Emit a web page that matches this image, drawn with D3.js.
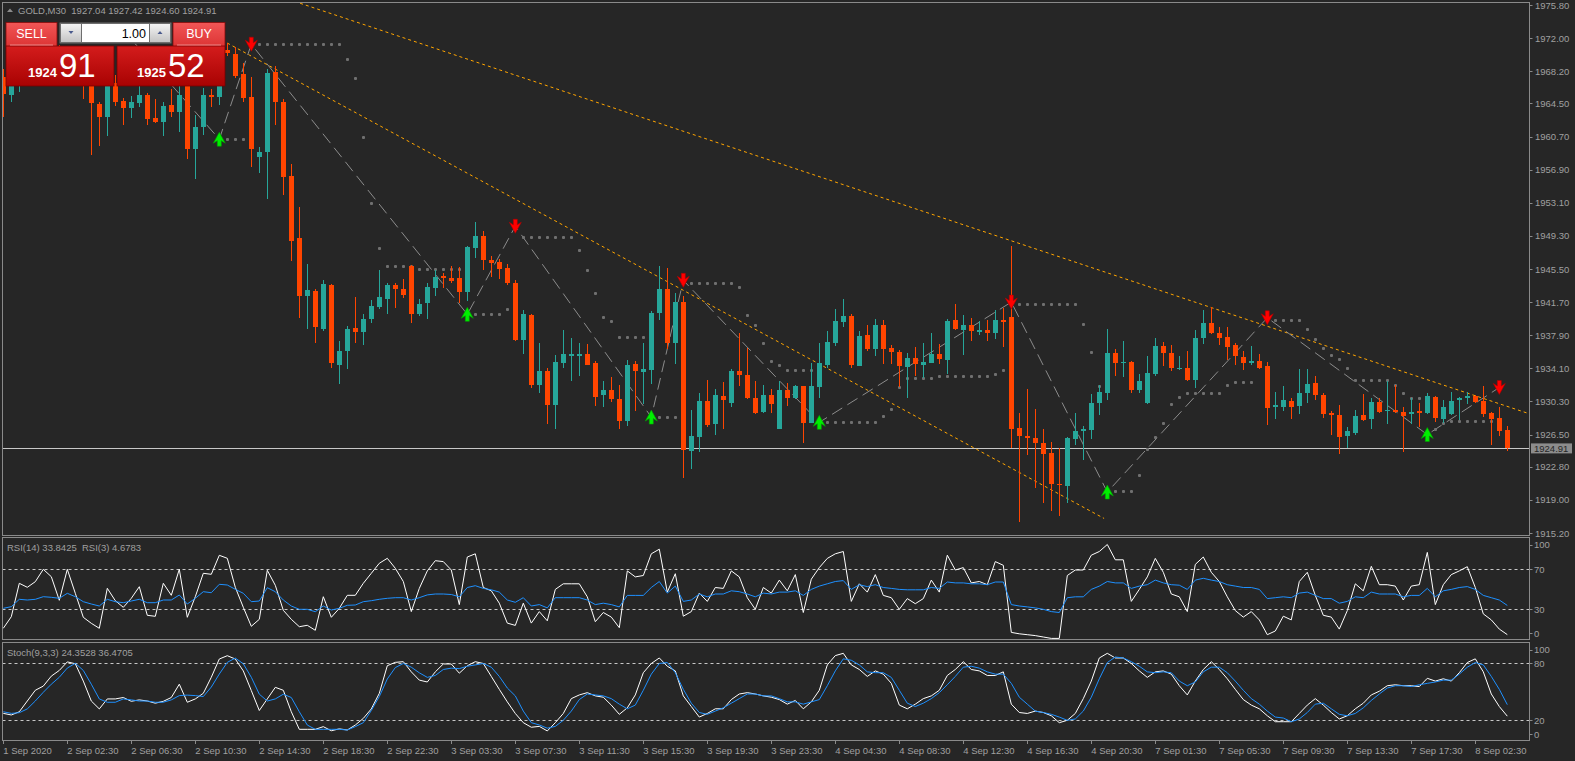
<!DOCTYPE html>
<html>
<head>
<meta charset="utf-8">
<script src="https://cdn.jsdelivr.net/npm/d3@7"></script>
<style>
  html, body { margin: 0; padding: 0; background: #262626; overflow: hidden; }
  svg { display: block; font-family: "Liberation Sans", Arial, sans-serif; }
</style>
</head>
<body>
<div id="chart"></div>
<script>
// GOLD M30 candles, 1 Sep 22:30 .. 8 Sep 03:30
const opens = [1967.5,1965.43,1967.2,1968.8,1969.5,1968.9,1969.6,1970.3,1969.0,1968.1,1968.4,1967.0,1964.43,1962.94,1966.9,1964.8,1964.0,1964.53,1965.43,1962.78,1962.36,1964.32,1963.47,1966.8,1959.33,1961.77,1965.43,1965.22,1970.6,1970.17,1967.88,1965.24,1958.38,1958.96,1968.14,1964.69,1956.2,1949.09,1942.41,1942.99,1938.64,1943.68,1934.5,1936.04,1938.75,1938.22,1939.76,1941.14,1942.09,1943.68,1943.2,1945.86,1940.29,1941.56,1943.31,1944.64,1944.48,1944.48,1942.83,1947.87,1949.31,1946.55,1946.34,1945.65,1943.9,1937.32,1940.23,1932.17,1933.81,1929.84,1934.72,1935.57,1935.57,1935.78,1934.72,1931.0,1931.64,1930.58,1928.03,1934.61,1933.66,1933.92,1940.45,1943.2,1936.95,1941.72,1924.64,1926.23,1930.37,1927.66,1930.95,1930.16,1933.76,1933.34,1930.68,1929.04,1931.0,1927.13,1931.64,1930.68,1932.07,1927.82,1931.96,1934.5,1937.05,1939.44,1940.13,1934.4,1937.9,1936.31,1939.07,1936.42,1935.99,1934.29,1935.25,1934.5,1934.72,1935.78,1935.09,1939.65,1938.54,1939.07,1938.27,1938.54,1938.17,1939.65,1940.02,1927.29,1926.34,1926.12,1925.49,1924.43,1920.87,1920.6,1925.96,1926.87,1926.97,1930.1,1931.32,1935.88,1934.66,1934.82,1931.64,1930.16,1933.44,1936.68,1935.88,1934.03,1934.13,1932.81,1937.53,1939.33,1938.17,1937.69,1936.79,1935.41,1934.66,1934.93,1934.4,1929.68,1929.63,1930.31,1929.73,1931.22,1932.44,1931.06,1928.99,1928.78,1926.28,1926.71,1928.78,1928.24,1930.26,1929.15,1929.36,1929.09,1928.88,1929.15,1928.99,1930.84,1928.24,1928.88,1930.47,1930.68,1930.9,1930.37,1928.99,1928.35,1927.03];
const highs = [1968.5,1968.0,1969.5,1970.2,1970.8,1970.0,1971.0,1971.2,1970.0,1969.6,1969.2,1968.0,1964.64,1968.0,1967.8,1965.17,1965.33,1966.8,1965.7,1964.96,1964.64,1966.12,1967.0,1967.5,1963.2,1966.28,1966.12,1969.0,1971.43,1970.98,1969.14,1967.5,1959.49,1968.51,1968.78,1965.06,1957.58,1952.65,1946.07,1943.2,1944.21,1943.75,1937.21,1938.96,1942.25,1940.29,1941.93,1945.43,1943.95,1943.84,1944.37,1945.96,1942.09,1943.95,1945.43,1945.01,1945.86,1945.75,1948.09,1950.9,1949.89,1947.02,1946.6,1946.12,1944.21,1940.76,1940.3,1937.05,1934.19,1935.62,1938.54,1937.58,1936.95,1936.84,1934.93,1932.7,1933.13,1932.17,1935.09,1934.93,1936.95,1940.66,1945.86,1945.59,1942.78,1942.36,1929.36,1931.22,1932.75,1931.75,1932.54,1934.03,1938.17,1936.42,1932.7,1932.17,1931.75,1932.7,1932.44,1932.17,1932.1,1934.72,1936.95,1938.43,1940.87,1942.09,1940.34,1938.43,1939.07,1939.76,1939.6,1936.73,1936.2,1935.88,1936.52,1936.95,1938.17,1936.84,1939.76,1941.51,1940.23,1939.86,1939.49,1939.7,1940.76,1940.98,1948.09,1928.99,1931.75,1929.41,1927.13,1925.65,1924.96,1926.23,1928.94,1927.5,1931.11,1932.17,1938.64,1936.31,1937.26,1934.93,1933.44,1935.51,1937.58,1937.16,1936.73,1935.51,1936.1,1938.54,1940.82,1941.19,1938.85,1938.8,1936.95,1936.1,1936.63,1935.78,1934.82,1931.43,1932.07,1930.68,1934.03,1934.03,1933.23,1931.22,1929.2,1929.94,1927.4,1929.36,1931.11,1930.68,1930.68,1932.7,1932.17,1929.63,1930.68,1930.15,1931.22,1930.87,1930.47,1931.43,1930.84,1931.37,1931.0,1932.07,1929.09,1929.63,1927.5];
const lows = [1962.94,1964.69,1965.86,1967.6,1968.3,1967.8,1968.9,1968.7,1967.5,1967.2,1965.06,1958.54,1959.65,1960.71,1964.21,1961.98,1962.83,1964.11,1961.98,1962.2,1960.71,1962.94,1961.24,1958.17,1955.78,1960.92,1964.11,1964.37,1970.0,1967.42,1964.66,1957.2,1956.57,1953.5,1961.98,1954.03,1946.39,1939.86,1938.64,1937.05,1938.43,1934.19,1932.28,1933.97,1936.95,1936.73,1939.33,1940.87,1940.29,1941.08,1942.14,1939.33,1940.13,1939.81,1942.41,1943.31,1943.84,1941.61,1941.83,1946.76,1945.33,1944.58,1944.37,1943.68,1937.2,1935.78,1931.85,1931.32,1927.66,1927.08,1934.19,1932.6,1933.23,1934.45,1929.73,1929.63,1930.21,1927.13,1927.5,1929.25,1930.05,1932.28,1939.6,1936.31,1934.56,1921.56,1922.52,1924.48,1927.4,1926.5,1927.08,1929.63,1932.07,1930.58,1928.88,1928.99,1928.99,1927.1,1929.73,1930.58,1925.49,1927.8,1930.68,1934.19,1936.63,1938.8,1934.19,1934.38,1936.1,1935.51,1934.61,1934.56,1932.01,1930.74,1933.23,1932.97,1934.7,1934.56,1933.5,1938.54,1935.67,1937.21,1937.9,1937.21,1937.48,1936.52,1925.01,1916.41,1924.11,1920.39,1918.59,1917.74,1917.1,1918.59,1925.27,1923.58,1925.96,1928.72,1930.42,1933.23,1933.07,1931.32,1931.27,1930.05,1933.23,1934.4,1933.76,1933.92,1932.6,1931.8,1936.84,1938.0,1936.73,1935.09,1934.5,1933.92,1934.5,1934.08,1927.55,1928.24,1929.25,1928.3,1928.83,1930.16,1930.47,1928.35,1926.5,1924.32,1924.96,1926.5,1928.03,1927.08,1928.99,1927.66,1928.99,1924.48,1927.71,1927.4,1928.88,1927.93,1927.82,1928.72,1928.19,1930.05,1930.15,1928.46,1925.27,1926.28,1924.58];
const closes = [1965.6,1967.2,1968.8,1969.5,1968.9,1969.6,1970.3,1969.0,1968.1,1969.0,1967.3,1964.53,1962.94,1967.0,1964.64,1964.0,1964.64,1965.43,1962.67,1962.36,1964.21,1963.47,1965.49,1959.33,1961.77,1965.43,1965.22,1968.0,1970.3,1967.65,1965.12,1959.27,1958.96,1967.98,1964.69,1956.04,1948.72,1942.41,1943.1,1938.8,1943.79,1934.66,1936.1,1938.64,1938.22,1939.76,1941.24,1942.3,1943.68,1943.15,1942.52,1940.34,1941.51,1943.42,1944.58,1944.43,1944.16,1942.83,1947.98,1949.25,1946.49,1946.23,1945.54,1943.84,1937.32,1940.34,1932.17,1933.81,1929.84,1934.82,1935.78,1935.78,1935.78,1934.5,1930.84,1931.64,1930.63,1928.03,1934.5,1933.76,1934.03,1940.45,1943.2,1936.95,1941.72,1924.74,1926.34,1930.37,1927.55,1931.0,1930.47,1933.76,1933.34,1930.68,1928.99,1931.0,1930.05,1931.64,1930.68,1932.07,1927.82,1932.07,1934.72,1937.16,1939.54,1940.13,1934.5,1937.85,1936.31,1939.07,1936.31,1935.99,1934.4,1935.25,1934.56,1934.82,1935.78,1935.14,1939.54,1938.64,1939.07,1938.33,1938.54,1938.17,1939.6,1939.44,1927.13,1926.34,1926.12,1925.49,1924.21,1920.77,1920.66,1926.07,1926.92,1927.08,1930.16,1931.37,1935.88,1934.72,1934.82,1931.64,1932.65,1933.6,1936.68,1935.83,1934.19,1934.19,1932.81,1937.58,1939.33,1938.11,1937.58,1936.57,1935.46,1934.66,1934.93,1934.19,1929.52,1929.84,1930.47,1929.63,1931.27,1932.33,1931.0,1928.83,1928.78,1926.23,1926.92,1928.67,1928.14,1930.26,1929.09,1929.36,1929.09,1928.67,1929.09,1928.99,1930.95,1928.35,1929.68,1930.37,1930.68,1930.9,1930.26,1928.88,1928.3,1926.87,1924.91];

const rsi14 = [31,32.6,40,39.3,40,42.6,42,41,46,42.6,37.6,35.3,33.3,40,37.6,36.6,38.3,40,36.6,36.6,39.3,39.3,44.3,35.3,41,47.6,46.6,55,54.3,50,46,37.6,38.3,51.6,47.6,39.3,33.3,30,30,27.6,33.3,29.3,31,34,34.3,37.6,38.6,40,41,41.6,41.6,39.3,41.6,44.4,45.3,45.3,44.8,42.5,51.8,53.6,50.9,49.5,47.2,39.3,37,41.6,33.3,34.7,31.4,41.6,41.6,41.6,41.6,39.3,34.7,36.1,34.7,32.4,43.9,43.9,43.9,51.8,57.8,46.2,53.2,37.9,39.3,45.3,42.5,45.3,45.3,48.5,47.6,45.3,42.5,46.2,45.3,47.2,47.2,48.5,43.9,49.9,53.2,55.5,57.8,58.7,49.9,54.6,52.7,54.6,51.8,50.9,49.9,49.5,49.5,49.5,51.8,50.9,57.3,56.4,56.4,55.5,55.5,54.6,57.3,57.3,34.7,33.3,32.4,31.4,30,27.7,26.8,41.6,42.5,42.5,49.9,53.2,57.8,56.4,56.4,50.9,53.2,54.6,59.2,56.4,54.6,54.1,49.9,59.2,61,59.2,57.8,54.6,53.2,51.8,51.8,49.9,40.7,41.6,42.5,41.6,46.2,47.2,43.9,40.7,40.7,36.1,37.9,42.5,41.6,47.2,45.3,45.3,45.3,42.5,43.9,43.9,50.9,42.5,48.5,49.9,51.8,52.7,49.9,43.9,41.6,39.3,33.84];
const rsi3 = [11,22.6,56,52,57.6,70,62.6,39,70,46,22,16,11,51,38.6,32,41,52.6,24,23,56,44,70,22,42.6,66,65,84,81,52,32,13,20,69,54,29,20,12.6,14,9,42.6,22,31,44,44,56,66,76,81,71,57.8,27.7,50.9,68.4,78.6,77.7,69.3,34.7,82.3,85.5,51.8,48.5,36.1,16.2,13.9,36.1,16.2,27.7,18.5,49.9,55.5,55.5,55.5,42.5,17.6,26.8,22.2,11.6,68.4,62.4,63.8,85.5,90.1,47.2,65.6,23.1,27.7,46.2,37.9,51.8,50.9,68.4,62.4,41.6,30,51.8,46.2,59.2,48.5,64.7,26.8,60.1,71.7,80.9,85.5,87.8,37.9,55.5,47.2,64.7,43.9,41.6,30,40.7,35.6,40.7,59.2,47.2,84.1,69.3,71.7,56.4,57.8,54.6,77.7,74,6.9,5.5,4.6,3.7,2.3,0.9,0.9,63.8,69.3,69.3,84.1,87.8,94.8,79.5,79.5,37.9,49.9,62.4,80.9,67,45.3,42.5,27.7,74.9,82.3,67,57.8,42.5,28.7,22.2,27.7,19.4,4.6,8.3,23.1,19.4,57.8,67,43.9,24,22.2,10.2,28.7,55.5,48.5,73,54.6,54.6,53.2,39.3,53.2,54.6,86.9,34.7,54.6,64.7,68.4,72.6,51.8,25.4,19.4,10.2,4.68];
const stochMain = [27.3,25.6,29,40.3,51.6,56,66.5,72.5,81.5,79.5,61.3,40.3,32,42.5,42.5,44,40,41.5,40.3,38,40,44,58,39,42.5,48.4,65.3,84.5,88,84.5,72,51.3,30.3,42.5,54.7,51.6,29,10.5,10.5,10.5,13.3,9,11,9.8,15,22,32,48.4,77.5,81,81.7,71,62.3,60.3,71,79.3,79.3,69.6,77.4,81.7,79.8,66.2,52.6,39.4,27.2,17.5,12.7,13.6,8.8,17.5,27.2,42.8,46.7,49.1,45.7,44.3,36,26.3,33.1,46.7,70.1,79.8,85.6,76.9,72,45.7,34.5,23.4,27.2,32.1,32.1,41.8,47.7,49.1,47.7,45.7,44.3,41.8,37,40.9,32.1,39.4,51.6,78.3,88.1,90.5,78.3,73.5,66.2,72,68.6,58.9,36,32.1,37,42.8,45.7,51.6,67.2,73.5,81.7,73.5,72,67.2,67.2,71,37,28.2,27.2,29.7,28.2,24.8,17.5,20,27.2,42.8,61.3,85.6,90.5,85.6,85.6,79.8,72,65.2,71,72,68.6,56.4,46.7,61.3,73.5,81.7,73.5,63.7,52.6,41.8,36,32.1,24.8,18.5,18.5,18.5,27.2,36,42.8,36,28.2,21.4,24.8,32.1,38,46.7,50.6,56.4,57.4,56.4,56.4,55.5,64.2,61.3,63.7,61.3,70.1,80.8,84.7,71,47.7,34.5,24.35];
const stochSignal = [29,27.3,28,32,40.3,49.5,58,65.3,75,80,72.5,58,42.5,39,39,42.5,41.5,40.3,40.3,39,39,41.5,46,46.5,46,45,55,68.7,81,85.5,79.5,65.3,47.5,40.3,42.5,47.5,44,29,15,10.5,10.5,10.5,10.5,9.8,13.3,17.5,30.3,45,63.5,75.5,79.8,75.9,70,65.2,67.2,73.5,74.9,74.4,76.9,78.3,79.8,75.9,66.2,54,45.7,29.7,17.5,15.1,11.7,13.6,20,29.7,41.8,47.7,46.7,45.7,42.8,37,32.1,36,51.6,68.6,79.8,80.8,70.1,52.6,38,28.2,26.3,29.7,33.1,38,42.8,47.7,47.7,45.7,45.7,42.8,39.4,39.4,37,39.4,41.8,56.4,72,84.7,83.2,78.3,71,70.1,70.1,65.2,51.6,38,34.5,38,42.8,49.1,57.4,66.2,75.9,76.9,74.9,71,68.6,68.6,58.9,44.3,37,29.7,28.2,26.3,23.4,20,21.4,29.7,44.3,63.7,80.8,86.6,85.6,81.7,76.9,71,70.1,71,70.1,61.3,56.4,60.3,71,75.9,75.9,70.1,61.3,51.6,42.8,37,29.7,23.4,22.4,18.5,21.4,28.2,37,38,32.1,26.3,24.8,27.2,33.1,40.9,47.7,54,56.4,56.4,55.5,57.4,58.9,60.3,62.3,62.3,68.6,75.9,80.8,78.3,66.2,52.6,36.47];

const priceTicks = [1975.80,1972.00,1968.20,1964.50,1960.70,1956.90,1953.10,1949.30,1945.50,1941.70,1937.90,1934.10,1930.30,1926.50,1922.80,1919.00,1915.20];
const timeLabels = ["1 Sep 2020","2 Sep 02:30","2 Sep 06:30","2 Sep 10:30","2 Sep 14:30","2 Sep 18:30","2 Sep 22:30","3 Sep 03:30","3 Sep 07:30","3 Sep 11:30","3 Sep 15:30","3 Sep 19:30","3 Sep 23:30","4 Sep 04:30","4 Sep 08:30","4 Sep 12:30","4 Sep 16:30","4 Sep 20:30","7 Sep 01:30","7 Sep 05:30","7 Sep 09:30","7 Sep 13:30","7 Sep 17:30","8 Sep 02:30"];

// signal arrows [bar, price]
const sellArrows = [[31,1971.3],[64,1950.4],[85,1944.2],[126,1941.7],[158,1939.9],[187,1931.9]];
const buyArrows = [[27,1960.4],[58,1940.3],[81,1928.5],[102,1927.9],[138,1919.9],[178,1926.5]];
const zigzag = [[15,1972.9],[27,1960.4],[31,1971.3],[58,1940.3],[64,1950.4],[81,1928.5],[85,1944.2],[102,1927.9],[126,1941.7],[138,1919.9],[158,1939.9],[178,1926.5],[187,1931.9]];
// trailing stop dots: [fromBar, toBar, price]
const stopRuns = [[28,30,1960.4],[32,42,1971.3],[43,43,1969.6],[44,44,1967.4],[45,45,1960.7],[46,46,1953.1],[47,47,1947.9],[48,51,1945.9],[52,57,1945.5],[59,62,1940.3],[63,63,1940.9],[65,71,1949.15],[72,72,1947.66],[73,73,1945.33],[74,74,1942.78],[75,75,1939.97],[76,76,1939.49],[77,80,1937.74],[82,84,1928.56],[86,91,1943.95],[92,92,1943.42],[93,93,1940.24],[94,94,1939.07],[95,95,1937.0],[96,96,1934.93],[97,97,1934.5],[98,101,1933.87],[103,109,1927.93],[110,110,1928.67],[111,111,1929.41],[112,112,1931.9],[113,116,1932.97],[117,123,1933.23],[124,124,1933.45],[125,125,1933.87],[127,134,1941.46],[135,135,1939.17],[136,136,1935.99],[137,137,1932.07],[139,141,1919.97],[142,142,1921.83],[143,143,1924.85],[144,144,1926.23],[145,145,1927.82],[146,146,1930.05],[147,147,1930.84],[148,152,1931.32],[153,153,1932.17],[154,156,1932.49],[159,162,1939.6],[163,163,1938.64],[164,164,1937.48],[165,165,1936.41],[166,166,1935.62],[167,167,1935.2],[168,168,1934.19],[169,173,1932.75],[174,174,1932.17],[175,175,1931.32],[176,177,1930.68],[179,179,1927.18],[180,180,1927.82],[181,186,1928.03]];
const trendUpper = [[37.1,1976.0],[190.7,1928.9]];
const trendLower = [[28,1971.43],[137.6,1916.87]];

const lastBid = 1924.91;

const width = 1575,
  height = 761;
const bull = "#26a69a",
  bear = "#ff4500",
  frame = "#8a8a8a",
  axisText = "#a0a0a0";

let svg = d3
  .select("#chart")
  .append("svg")
  .attr("width", width)
  .attr("height", height);

svg.append("rect").attr("width", width).attr("height", height).attr("fill", "#262626");

const n = closes.length;
const x = d3.scaleLinear().domain([0, n - 1]).range([3.3, 3.3 + 8 * (n - 1)]);
const y = d3.scaleLinear().domain([1915.2, 1975.8]).range([533, 5]);
const yRsi = d3.scaleLinear().domain([0, 100]).range([639.3, 539.3]);
const ySto = d3.scaleLinear().domain([0, 100]).range([739.3, 644.3]);

const panels = [
  { id: "clip-main", top: 2.5, bottom: 535.5 },
  { id: "clip-rsi", top: 537.5, bottom: 639.5 },
  { id: "clip-sto", top: 642.5, bottom: 740.5 },
];
const left = 2.5,
  right = 1529.5;

const defs = svg.append("defs");
panels.forEach(function (p) {
  defs
    .append("clipPath")
    .attr("id", p.id)
    .append("rect")
    .attr("x", left + 0.5)
    .attr("y", p.top + 0.5)
    .attr("width", right - left - 1)
    .attr("height", p.bottom - p.top - 1);
});

// panel frames
svg
  .append("g")
  .selectAll("rect")
  .data(panels)
  .join("rect")
  .attr("x", left)
  .attr("y", (d) => d.top)
  .attr("width", right - left)
  .attr("height", (d) => d.bottom - d.top)
  .attr("fill", "none")
  .attr("stroke", frame)
  .attr("stroke-width", 1);

// ---------- main price panel ----------
const g = svg.append("g").attr("clip-path", "url(#clip-main)");

// bid line
g.append("line")
  .attr("x1", left)
  .attr("x2", right)
  .attr("y1", Math.round(y(lastBid)) + 0.5)
  .attr("y2", Math.round(y(lastBid)) + 0.5)
  .attr("stroke", "#c8c8c8")
  .attr("stroke-width", 1);

const pt = d3
  .line()
  .x((d) => x(d[0]))
  .y((d) => y(d[1]));

[trendUpper, trendLower].forEach(function (t) {
  g.append("path")
    .datum(t)
    .attr("fill", "none")
    .attr("stroke", "#ffa500")
    .attr("stroke-width", 1)
    .attr("stroke-dasharray", "3,3")
    .attr("d", pt);
});

g.append("path")
  .datum(zigzag)
  .attr("fill", "none")
  .attr("stroke", "#8c8c8c")
  .attr("stroke-width", 1)
  .attr("stroke-dasharray", "12,6")
  .attr("d", pt);

let stopDots = [];
stopRuns.forEach(function (r) {
  for (let b = r[0]; b <= r[1]; b++) stopDots.push([b, r[2]]);
});
g.append("g")
  .selectAll("rect")
  .data(stopDots)
  .join("rect")
  .attr("x", (d) => Math.round(x(d[0])) - 1)
  .attr("y", (d) => Math.round(y(d[1])) - 1)
  .attr("width", 3)
  .attr("height", 3)
  .attr("rx", 1)
  .attr("fill", "#707070");

const bars = closes.map(function (c, i) {
  return { i: i, o: opens[i], h: highs[i], l: lows[i], c: c };
});

const cg = g.append("g").attr("shape-rendering", "crispEdges");
cg.selectAll("line")
  .data(bars)
  .join("line")
  .attr("x1", (d) => Math.round(x(d.i)) + 0.5)
  .attr("x2", (d) => Math.round(x(d.i)) + 0.5)
  .attr("y1", (d) => y(d.h))
  .attr("y2", (d) => y(d.l))
  .attr("stroke", (d) => (d.c >= d.o ? bull : bear))
  .attr("stroke-width", 1);

cg.selectAll("rect")
  .data(bars)
  .join("rect")
  .attr("x", (d) => Math.round(x(d.i)) - 2)
  .attr("width", 5)
  .attr("y", (d) => Math.round(y(Math.max(d.o, d.c))))
  .attr("height", (d) =>
    Math.max(1, Math.round(y(Math.min(d.o, d.c))) - Math.round(y(Math.max(d.o, d.c))))
  )
  .attr("fill", (d) => (d.c >= d.o ? bull : bear));

const downArrow = "M-2,-7L2,-7L2,-1.5L6,-4L0,7L-6,-4L-2,-1.5Z";
const upArrow = "M-2,7L2,7L2,1.5L6,4L0,-7L-6,4L-2,1.5Z";

g.append("g")
  .selectAll("path")
  .data(sellArrows)
  .join("path")
  .attr("transform", (d) => "translate(" + x(d[0]) + "," + y(d[1]) + ")")
  .attr("d", downArrow)
  .attr("fill", "#ff0000")
  .attr("stroke", "#b00000")
  .attr("stroke-width", 0.6);

g.append("g")
  .selectAll("path")
  .data(buyArrows)
  .join("path")
  .attr("transform", (d) => "translate(" + x(d[0]) + "," + y(d[1]) + ")")
  .attr("d", upArrow)
  .attr("fill", "#00ee00")
  .attr("stroke", "#00a000")
  .attr("stroke-width", 0.6);

// price scale
const ax = svg.append("g");
ax.selectAll("line")
  .data(priceTicks)
  .join("line")
  .attr("x1", right)
  .attr("x2", right + 3)
  .attr("y1", (d) => Math.round(y(d)) + 0.5)
  .attr("y2", (d) => Math.round(y(d)) + 0.5)
  .attr("stroke", frame);
ax.selectAll("text")
  .data(priceTicks)
  .join("text")
  .attr("x", 1535)
  .attr("y", (d) => y(d) + 3.5)
  .attr("fill", axisText)
  .style("font-size", "9.5px")
  .text((d) => d.toFixed(2));

ax.append("rect")
  .attr("x", 1531)
  .attr("y", y(lastBid) - 5)
  .attr("width", 41)
  .attr("height", 10)
  .attr("fill", "#8c8c8c");
ax.append("text")
  .attr("x", 1534)
  .attr("y", y(lastBid) + 3.5)
  .attr("fill", "#262626")
  .style("font-size", "9.5px")
  .text(lastBid.toFixed(2));

// ---------- indicator panels ----------
function drawIndicator(clipId, scale, top, bottom, levels, labels, series, title) {
  const ig = svg.append("g").attr("clip-path", "url(#" + clipId + ")");

  ig.selectAll("line")
    .data(levels)
    .join("line")
    .attr("x1", left)
    .attr("x2", right)
    .attr("y1", (d) => Math.round(scale(d)) + 0.5)
    .attr("y2", (d) => Math.round(scale(d)) + 0.5)
    .attr("stroke", "#c8c8c8")
    .attr("stroke-width", 1)
    .attr("stroke-dasharray", "3,3");

  series.forEach(function (s) {
    ig.append("path")
      .datum(s.values)
      .attr("fill", "none")
      .attr("stroke", s.color)
      .attr("stroke-width", 1)
      .attr(
        "d",
        d3
          .line()
          .x((d, i) => x(i))
          .y((d) => scale(d))
      );
  });

  svg
    .append("text")
    .attr("x", 7)
    .attr("y", top + 13)
    .attr("fill", axisText)
    .style("font-size", "9.5px")
    .style("white-space", "pre")
    .text(title);

  const ly = (d) => Math.min(Math.max(scale(d), top + 7), bottom - 6.5);
  svg
    .append("g")
    .selectAll("line")
    .data(labels)
    .join("line")
    .attr("x1", right)
    .attr("x2", right + 3)
    .attr("y1", (d) => Math.round(ly(d)) + 0.5)
    .attr("y2", (d) => Math.round(ly(d)) + 0.5)
    .attr("stroke", frame);
  svg
    .append("g")
    .selectAll("text")
    .data(labels)
    .join("text")
    .attr("x", 1534)
    .attr("y", (d) => ly(d) + 3.5)
    .attr("fill", axisText)
    .style("font-size", "9.5px")
    .text((d) => d);
}

drawIndicator(
  "clip-rsi",
  yRsi,
  537.5,
  639.5,
  [70, 30],
  [100, 70, 30, 0],
  [
    { values: rsi3, color: "#ffffff" },
    { values: rsi14, color: "#1e90ff" },
  ],
  "RSI(14) 33.8425  RSI(3) 4.6783"
);

drawIndicator(
  "clip-sto",
  ySto,
  642.5,
  740.5,
  [80, 20],
  [100, 80, 20, 0],
  [
    { values: stochMain, color: "#ffffff" },
    { values: stochSignal, color: "#1e90ff" },
  ],
  "Stoch(9,3,3) 24.3528 36.4705"
);

// time axis
const tx = svg.append("g");
tx.selectAll("line")
  .data(timeLabels)
  .join("line")
  .attr("x1", (d, i) => Math.round(x(i * 8)) + 0.5)
  .attr("x2", (d, i) => Math.round(x(i * 8)) + 0.5)
  .attr("y1", 740.5)
  .attr("y2", 744)
  .attr("stroke", frame);
tx.selectAll("text")
  .data(timeLabels)
  .join("text")
  .attr("x", (d, i) => x(i * 8))
  .attr("y", 754)
  .attr("fill", axisText)
  .style("font-size", "9.5px")
  .text((d) => d);

// ---------- symbol header ----------
svg
  .append("path")
  .attr("d", "M7,12L10,8.5L13,12Z")
  .attr("fill", "#8c8c8c");
svg
  .append("text")
  .attr("x", 18)
  .attr("y", 13.5)
  .attr("fill", axisText)
  .style("font-size", "9.5px")
  .style("white-space", "pre")
  .text("GOLD,M30  1927.04 1927.42 1924.60 1924.91");

// ---------- one click trading panel ----------
const grad = function (id, c1, c2) {
  const lg = defs.append("linearGradient").attr("id", id).attr("x1", 0).attr("x2", 0).attr("y1", 0).attr("y2", 1);
  lg.append("stop").attr("offset", "0%").attr("stop-color", c1);
  lg.append("stop").attr("offset", "100%").attr("stop-color", c2);
};
grad("g-head", "#f25656", "#dc3434");
grad("g-price", "#d41c1c", "#a80202");
grad("g-btn", "#f4f4f4", "#c4c4c4");

const tp = svg.append("g");
const sides = [
  { head: 6, hw: 51, box: 6, label: "SELL", big: "1924", small: "91", tx: 57 },
  { head: 173, hw: 52, box: 117, label: "BUY", big: "1925", small: "52", tx: 166 },
];
sides.forEach(function (s) {
  tp.append("rect")
    .attr("x", s.head)
    .attr("y", 22.5)
    .attr("width", s.hw)
    .attr("height", 24)
    .attr("fill", "url(#g-head)")
    .attr("stroke", "#8a0a0a")
    .attr("stroke-width", 0.8);
  tp.append("rect")
    .attr("x", s.box)
    .attr("y", 46)
    .attr("width", 108)
    .attr("height", 40)
    .attr("fill", "url(#g-price)")
    .attr("stroke", "#7a0000")
    .attr("stroke-width", 0.8);
  tp.append("line")
    .attr("x1", s.head + 4)
    .attr("x2", s.head + s.hw - 4)
    .attr("y1", 45)
    .attr("y2", 45)
    .attr("stroke", "#f3a0a0")
    .attr("stroke-width", 0.8);
  tp.append("text")
    .attr("x", s.head + s.hw / 2)
    .attr("y", 38)
    .attr("text-anchor", "middle")
    .attr("fill", "#ffffff")
    .style("font-size", "12.5px")
    .text(s.label);
  tp.append("text")
    .attr("x", s.tx)
    .attr("y", 77)
    .attr("text-anchor", "end")
    .attr("fill", "#ffffff")
    .style("font-size", "13px")
    .style("font-weight", "bold")
    .text(s.big);
  tp.append("text")
    .attr("x", s.tx + 2)
    .attr("y", 77)
    .attr("fill", "#ffffff")
    .style("font-size", "33px")
    .text(s.small);
});

// lot size control
tp.append("rect")
  .attr("x", 59.5)
  .attr("y", 22.5)
  .attr("width", 112)
  .attr("height", 21)
  .attr("fill", "#6e6e6e");
tp.append("rect").attr("x", 61).attr("y", 24).attr("width", 20).attr("height", 18).attr("fill", "url(#g-btn)");
tp.append("rect").attr("x", 150).attr("y", 24).attr("width", 20).attr("height", 18).attr("fill", "url(#g-btn)");
tp.append("rect").attr("x", 82).attr("y", 24).attr("width", 67).attr("height", 18).attr("fill", "#ffffff");
tp.append("path").attr("d", "M68.5,31L73.5,31L71,34Z").attr("fill", "#4a5a8c");
tp.append("path").attr("d", "M157.5,34L162.5,34L160,31Z").attr("fill", "#4a5a8c");
tp.append("text")
  .attr("x", 146)
  .attr("y", 37.5)
  .attr("text-anchor", "end")
  .attr("fill", "#000000")
  .style("font-size", "12.5px")
  .text("1.00");
</script>
</body>
</html>
